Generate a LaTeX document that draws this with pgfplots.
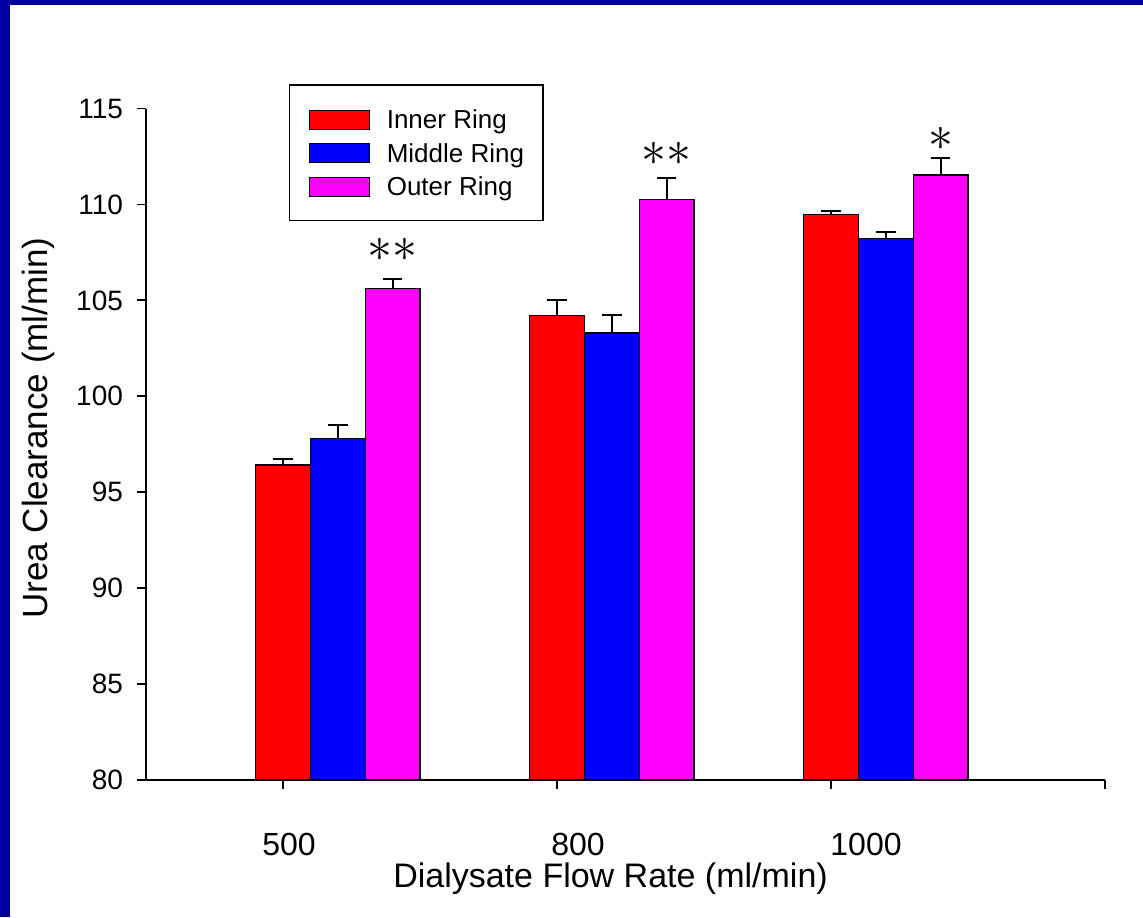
\documentclass[border=0pt]{standalone}
\usepackage{pgfplots}
\pgfplotsset{compat=1.18}
\usepackage{pgfplotstable}
\usepackage{fontspec}
\setmainfont{Liberation Sans}
\definecolor{navyb}{RGB}{0,0,160}
\definecolor{pmag}{RGB}{255,0,255}

\pgfplotstableread{
x y e
1 96.42 0.30
2 104.22 0.81
3 109.48 0.18
}\inner
\pgfplotstableread{
x y e
1.2 97.81 0.68
2.2 103.30 0.95
3.2 108.23 0.32
}\middle
\pgfplotstableread{
x y e
1.4 105.63 0.47
2.4 110.27 1.12
3.4 111.53 0.87
}\outer

\pgfplotsset{
  mylegend/.style={legend image code/.code={%
    \draw[##1, draw=black, line width=0.5pt] (0pt,-5.1pt) rectangle (30pt,4.4pt);
    \path (38.5pt,0pt);}},
  myerr/.style={error bars/.cd, y dir=plus, y explicit,
    error bar style={line width=1pt, black, solid},
    error mark options={rotate=90, mark size=4.85pt, line width=1pt, black}},
}

\begin{document}
\begin{tikzpicture}
\useasboundingbox (-73pt,-68.5pt) rectangle (498.5pt,390pt);
\fill[navyb] (-73pt,-68.5pt) rectangle (498.5pt,390pt);
\fill[white] (-68pt,-68.5pt) rectangle (498.5pt,387.5pt);
\begin{axis}[
  at={(0,0)}, anchor=south west,
  scale only axis, width=479.5pt, height=335.75pt,
  xmin=0.5, xmax=4, ymin=80, ymax=115,
  axis x line=bottom, axis y line=left,
  axis line style={-, line width=1pt, black},
  every inner x axis line/.append style={-},
  every inner y axis line/.append style={-},
  every outer x axis line/.append style={-},
  every outer y axis line/.append style={-},
  xtick={1,2,3,4},
  xticklabels={\hspace*{6pt}500,\hspace*{21pt}800,\hspace*{35pt}1000,{}},
  ytick={80,85,...,115},
  tick align=outside, major tick length=4.5pt,
  tick style={line width=0.9pt, black},
  /pgf/number format/assume math mode=true,
  yticklabel style={font=\fontsize{14}{16}\selectfont, anchor=east, xshift=-3.5pt},
  xticklabel style={font=\fontsize{16}{18}\selectfont, anchor=north, yshift=-20pt, inner ysep=2pt},
  xlabel={Dialysate Flow Rate (ml/min)},
  ylabel={Urea Clearance (ml/min)},
  xlabel style={font=\fontsize{17}{20}\selectfont, at={(axis description cs:0.4844,-0.1475)}, anchor=center, inner sep=0pt},
  ylabel style={font=\fontsize{17.5}{20}\selectfont, at={(axis description cs:-0.1126,0.524)}, anchor=center, rotate=0},
  legend style={at={(axis description cs:0.149,1.0365)}, anchor=north west,
    draw=black, line width=0.8pt, fill=white,
    inner xsep=9.5pt, inner ysep=8.8pt, row sep=0pt,
    font=\fontsize{13}{15}\selectfont,
    nodes={inner sep=0pt, text height=13.1pt, text depth=3.65pt}},
  legend cell align=left,
  clip mode=individual,
]
\addplot[ybar, bar width=0.2, bar shift=0, fill=red, draw=black, line width=0.6pt, mylegend, myerr]
  table[x=x, y=y, y error=e] {\inner};
\addlegendentry{Inner Ring}
\addplot[ybar, bar width=0.2, bar shift=0, fill=blue, draw=black, line width=0.6pt, mylegend, myerr]
  table[x=x, y=y, y error=e] {\middle};
\addlegendentry{Middle Ring}
\addplot[ybar, bar width=0.2, bar shift=0, fill=pmag, draw=black, line width=0.6pt, mylegend, myerr]
  table[x=x, y=y, y error=e] {\outer};
\addlegendentry{Outer Ring}
\node[font=\fontsize{24}{28}\selectfont, inner sep=0pt] at (axis cs:1.4,107.61) {$\ast\ast$};
\node[font=\fontsize{24}{28}\selectfont, inner sep=0pt] at (axis cs:2.4,112.62) {$\ast\ast$};
\node[font=\fontsize{24}{28}\selectfont, inner sep=0pt] at (axis cs:3.4,113.40) {$\ast$};
\end{axis}
\end{tikzpicture}
\end{document}
